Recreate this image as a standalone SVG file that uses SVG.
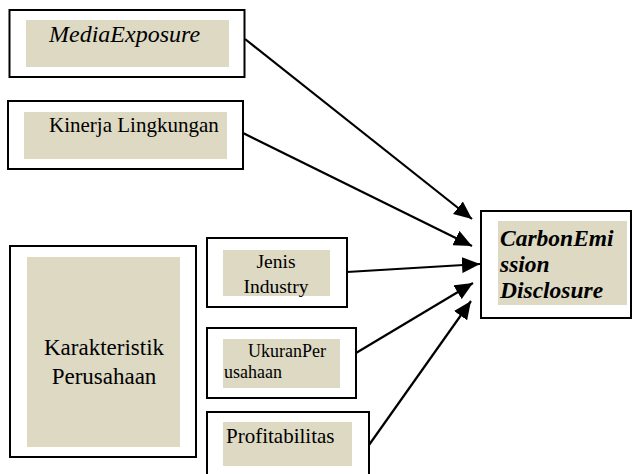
<svg xmlns="http://www.w3.org/2000/svg" width="633" height="474" viewBox="0 0 633 474">
<style>
.outer{fill:#fff;stroke:#000;stroke-width:2}
.inner{fill:#ddd9c3;stroke:none}
.t{font-family:"Liberation Serif","Times New Roman",serif;fill:#000}
.b{font-weight:bold;font-style:italic;font-size:23.5px}
.conn line{stroke:#000;stroke-width:2.2;fill:none}
</style>
<defs>
<marker id="arr" markerUnits="userSpaceOnUse" markerWidth="20" markerHeight="16" refX="18" refY="8" orient="auto">
<path d="M0,0 L18,8 L0,16 Z" fill="#000"/>
</marker>
</defs>
<rect width="633" height="474" fill="#fff"/>
<g id="media">
<rect class="outer" x="9.5" y="10" width="235" height="67"/>
<rect class="inner" x="26" y="20" width="203" height="47"/>
<text class="t" x="49" y="42" font-size="24" font-style="italic">MediaExposure</text>
</g>
<g id="kinerja">
<rect class="outer" x="8" y="101" width="235" height="68"/>
<rect class="inner" x="24" y="112" width="203" height="47"/>
<text class="t" x="49" y="132" font-size="21">Kinerja Lingkungan</text>
</g>
<g id="karakteristik">
<rect class="outer" x="10" y="246" width="186" height="211"/>
<rect class="inner" x="27" y="257" width="153" height="190"/>
<text class="t" x="104" y="355" font-size="23" text-anchor="middle">Karakteristik</text>
<text class="t" x="104" y="384" font-size="23" text-anchor="middle">Perusahaan</text>
</g>
<g id="jenis">
<rect class="outer" x="207" y="238" width="140" height="69"/>
<rect class="inner" x="223" y="250" width="107" height="46"/>
<text class="t" x="276" y="268" font-size="19.5" text-anchor="middle">Jenis</text>
<text class="t" x="276" y="293" font-size="19.5" text-anchor="middle">Industry</text>
</g>
<g id="ukuran">
<rect class="outer" x="207" y="328" width="149" height="70"/>
<rect class="inner" x="223" y="339" width="117" height="49"/>
<text class="t" x="248" y="357" font-size="18">UkuranPer</text>
<text class="t" x="224" y="378" font-size="18">usahaan</text>
</g>
<g id="profitabilitas">
<rect class="outer" x="207" y="412" width="162" height="70"/>
<rect class="inner" x="223" y="422" width="129" height="44"/>
<text class="t" x="226" y="443" font-size="21">Profitabilitas</text>
</g>
<g id="carbon">
<rect class="outer" x="481" y="211" width="150" height="107"/>
<rect class="inner" x="498" y="221" width="129" height="84"/>
<text class="t b" x="500" y="246">CarbonEmi</text>
<text class="t b" x="500" y="272">ssion</text>
<text class="t b" x="500" y="298">Disclosure</text>
</g>
<g id="connectors" class="conn">
<line x1="245" y1="39" x2="472" y2="219" marker-end="url(#arr)"/>
<line x1="243" y1="133" x2="472" y2="246" marker-end="url(#arr)"/>
<line x1="347" y1="272" x2="480" y2="264" marker-end="url(#arr)"/>
<line x1="356" y1="353" x2="473" y2="283" marker-end="url(#arr)"/>
<line x1="369" y1="445" x2="471" y2="301" marker-end="url(#arr)"/>
</g>
</svg>
